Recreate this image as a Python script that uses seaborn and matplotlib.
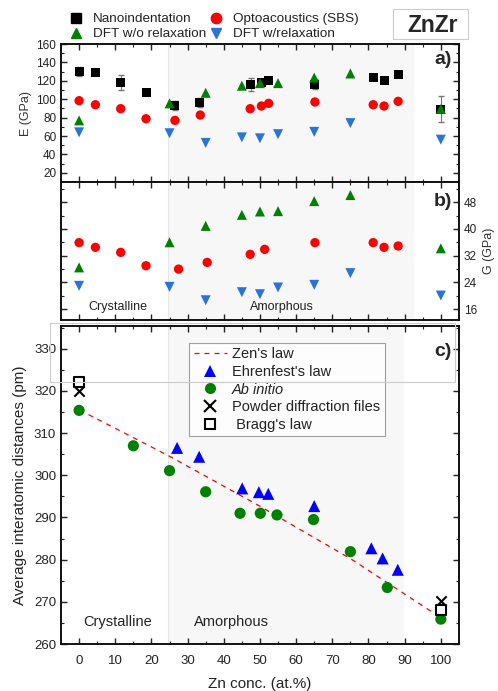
import matplotlib
matplotlib.use("Agg")
import matplotlib.pyplot as plt
import seaborn as sns
import numpy as np
from matplotlib.lines import Line2D
from matplotlib.patches import Rectangle
from matplotlib.ticker import MultipleLocator

# --- panel a: Young's modulus E (GPa) ---
nano_x = [0, 4.5, 11.5, 18.5, 26.4, 33.4, 47.4, 50.4, 52.3, 65.2, 81.3, 84.3, 88.2, 100]
nano_e = [130, 129, 118.5, 107, 93.3, 96.6, 116.2, 118.7, 119.8, 116.5, 123.4, 120.5, 127.4, 89.3]
nano_err = [5, 2, 8, 2, 5, 5, 7, 2, 2, 5, 2, 2, 2, 14]

sbs_x_a = [0, 4.5, 11.5, 18.5, 26.5, 33.5, 47.3, 50.4, 52.4, 65.2, 81.3, 84.3, 88.2]
sbs_e = [98.4, 94, 89.7, 78.8, 77, 82.8, 89.7, 92.6, 95.5, 97, 94, 92.6, 97.7]

dft_x = [0, 25, 35, 45, 50, 55, 65, 75, 100]
dft_norelax_e = [77, 95.5, 107, 114.7, 117.5, 117.5, 123.5, 128, 89.5]
dft_relax_e = [64, 63, 52.5, 58.5, 57.5, 62, 64.5, 74, 56]

# --- panel b: shear modulus G (GPa) ---
sbs_x_b = [0, 4.5, 11.5, 18.5, 27.5, 35.4, 47.3, 51.3, 65.2, 81.3, 84.3, 88.2]
sbs_g = [35.9, 34.5, 33.0, 29.0, 28.0, 30.0, 32.4, 33.9, 35.9, 35.9, 34.5, 34.9]
dft_norelax_g = [28.5, 36.0, 40.9, 44.2, 45.2, 45.3, 48.3, 50.1, 34.2]
dft_relax_g = [23.0, 22.7, 18.7, 21.1, 20.5, 22.5, 23.3, 26.8, 20.1]

# --- panel c: interatomic distances (pm) ---
abinitio_x = [0, 15, 25, 35, 44.5, 50.1, 54.7, 64.8, 75, 85.2, 100]
abinitio_d = [315.4, 307.0, 301.1, 296.1, 291.0, 291.0, 290.6, 289.5, 281.9, 273.4, 265.9]
ehren_x = [27.1, 33.2, 45.1, 49.7, 52.3, 65, 80.8, 83.9, 88.1]
ehren_d = [306.5, 304.4, 296.9, 296.0, 295.6, 292.7, 282.7, 280.3, 277.6]
zen_x = [2.6, 24.6, 48.5, 75.1, 98.1]
zen_d = [314.4, 304.7, 293.4, 280.2, 267.3]
pdf_x = [0, 100]
pdf_d = [320.1, 270.3]
bragg_x = [0, 100]
bragg_d = [322.1, 268.0]

GREEN = "#008000"
RED = "#ff0000"
BLUE_A = "#2a74d8"
BLUE_C = "#0000ff"
SHADE = "#f7f7f7"

sns.set_theme(style="ticks")
plt.rcParams["font.family"] = ["Liberation Sans", "DejaVu Sans"]

fig = plt.figure(figsize=(4.98, 6.91), dpi=100)
ax_a = fig.add_axes([0.1225, 0.7366, 0.799, 0.1997])
ax_b = fig.add_axes([0.1225, 0.5369, 0.799, 0.1997])
ax_c = fig.add_axes([0.1225, 0.068, 0.799, 0.4602])

for ax in (ax_a, ax_b, ax_c):
    ax.set_xlim(-5, 105)
    ax.xaxis.set_major_locator(MultipleLocator(10))
    ax.xaxis.set_minor_locator(MultipleLocator(5))
    ax.tick_params(which="both", direction="in", top=True, right=True, colors="#222222",
                   labelsize=8.5)
    ax.tick_params(which="major", length=4, width=1)
    ax.tick_params(which="minor", length=2.5, width=0.8)
    for sp in ax.spines.values():
        sp.set_linewidth(1.4)
        sp.set_color("#111111")

ax_a.axvspan(24.5, 92.5, color=SHADE, zorder=0, lw=0)
ax_b.axvspan(24.5, 92.5, color=SHADE, zorder=0, lw=0)
ax_c.axvspan(24.5, 89.7, color=SHADE, zorder=0, lw=0)
for ax in (ax_a, ax_b, ax_c):
    ax.axvline(24.5, color="#e6e6e6", lw=0.8, zorder=0)

# panel a
ax_a.errorbar(nano_x, nano_e, yerr=nano_err, fmt="none", ecolor="#777777", elinewidth=0.8,
              capsize=2, zorder=2)
sns.scatterplot(x=nano_x, y=nano_e, ax=ax_a, marker="s", color="black", s=42, edgecolor="none", zorder=3)
sns.scatterplot(x=sbs_x_a, y=sbs_e, ax=ax_a, marker="o", color=RED, s=45, edgecolor="none", zorder=3)
sns.scatterplot(x=dft_x, y=dft_norelax_e, ax=ax_a, marker="^", color=GREEN, s=52, edgecolor="none", zorder=3)
sns.scatterplot(x=dft_x, y=dft_relax_e, ax=ax_a, marker="v", color=BLUE_A, s=52, edgecolor="none", zorder=3)
ax_a.set_ylim(10, 160)
ax_a.yaxis.set_minor_locator(MultipleLocator(10))
ax_a.set_yticks([20, 40, 60, 80, 100, 120, 140, 160])
ax_a.tick_params(labelbottom=False)
ax_a.set_ylabel("E (GPa)", fontsize=9, color="#333333", labelpad=3)
ax_a.text(100.5, 143, "a)", fontsize=14, fontweight="bold", ha="center", va="center")

# panel b
sns.scatterplot(x=sbs_x_b, y=sbs_g, ax=ax_b, marker="o", color=RED, s=45, edgecolor="none", zorder=3)
sns.scatterplot(x=dft_x, y=dft_norelax_g, ax=ax_b, marker="^", color=GREEN, s=52, edgecolor="none", zorder=3)
sns.scatterplot(x=dft_x, y=dft_relax_g, ax=ax_b, marker="v", color=BLUE_A, s=52, edgecolor="none", zorder=3)
ax_b.set_ylim(12.8, 54)
ax_b.yaxis.set_minor_locator(MultipleLocator(4))
ax_b.set_yticks([16, 24, 32, 40, 48])
ax_b.yaxis.tick_right()
ax_b.yaxis.set_label_position("right")
ax_b.tick_params(which="both", left=True, labelleft=False, labelright=True, labelbottom=False)
ax_b.set_ylabel("G (GPa)", fontsize=9, color="#333333", labelpad=4)
ax_b.text(100.5, 48.2, "b)", fontsize=14, fontweight="bold", ha="center", va="center")
ax_b.text(10.7, 16.8, "Crystalline", fontsize=9, ha="center", va="center", color="#222222")
ax_b.text(56, 16.8, "Amorphous", fontsize=9, ha="center", va="center", color="#222222")

# panel c
sns.lineplot(x=zen_x, y=zen_d, ax=ax_c, color=RED, lw=0.9, linestyle=(0, (4, 4)), zorder=2)
sns.scatterplot(x=ehren_x, y=ehren_d, ax=ax_c, marker="^", color=BLUE_C, s=75, edgecolor="none", zorder=3)
sns.scatterplot(x=abinitio_x, y=abinitio_d, ax=ax_c, marker="o", color=GREEN, s=65, edgecolor="none", zorder=3)
sns.scatterplot(x=pdf_x, y=pdf_d, ax=ax_c, marker="x", color="black", s=55, linewidth=1.5, zorder=4)
sns.scatterplot(x=bragg_x, y=bragg_d, ax=ax_c, marker="s", facecolor="white", edgecolor="black",
                s=55, linewidth=1.5, zorder=4)
ax_c.set_ylim(260, 335.4)
ax_c.yaxis.set_major_locator(MultipleLocator(10))
ax_c.yaxis.set_minor_locator(MultipleLocator(5))
ax_c.tick_params(which="both", labelsize=9.5)
ax_c.tick_params(axis="x", pad=8)
ax_c.set_xlabel("Zn conc. (at.%)", fontsize=11, color="#222222", labelpad=7)
ax_c.set_ylabel("Average interatomic distances (pm)", fontsize=11, color="#222222", labelpad=5)
ax_c.text(100.5, 329.3, "c)", fontsize=14, fontweight="bold", ha="center", va="center")
ax_c.text(10.6, 265.2, "Crystalline", fontsize=10.5, ha="center", va="center", color="#222222")
ax_c.text(42.2, 265.2, "Amorphous", fontsize=10.5, ha="center", va="center", color="#222222")

c_handles = [
    Line2D([], [], color=RED, lw=0.9, linestyle=(0, (4, 4))),
    Line2D([], [], marker="^", color=BLUE_C, lw=0, markersize=8.5, markeredgewidth=0),
    Line2D([], [], marker="o", color=GREEN, lw=0, markersize=8, markeredgewidth=0),
    Line2D([], [], marker="x", color="black", lw=0, markersize=8, markeredgewidth=1.5),
    Line2D([], [], marker="s", markerfacecolor="white", markeredgecolor="black", lw=0,
           markersize=7, markeredgewidth=1.5),
]
c_labels = ["Zen's law", "Ehrenfest's law", "Ab initio", "Powder diffraction files", " Bragg's law"]
leg_c = ax_c.legend(c_handles, c_labels, loc="upper left", bbox_to_anchor=(0.322, 0.947),
                    fontsize=10.5, frameon=True, fancybox=False, edgecolor="#888888",
                    handlelength=2.3, handletextpad=0.35, labelspacing=0.25, borderpad=0.3,
                    borderaxespad=0)
leg_c.get_frame().set_linewidth(0.8)
for t in leg_c.get_texts():
    t.set_color("#222222")
leg_c.get_texts()[2].set_fontstyle("italic")

# top legend
top_handles = [
    Line2D([], [], marker="s", color="black", lw=0, markersize=6.5),
    Line2D([], [], marker="^", color=GREEN, lw=0, markersize=7.5),
    Line2D([], [], marker="o", color=RED, lw=0, markersize=7.5),
    Line2D([], [], marker="v", color=BLUE_A, lw=0, markersize=7.5),
]
top_labels = ["Nanoindentation", "DFT w/o relaxation", "Optoacoustics (SBS)", "DFT w/relaxation"]
leg_top = fig.legend(top_handles, top_labels, ncol=2, loc="upper left", bbox_to_anchor=(0.115, 0.999),
                     frameon=False, fontsize=9.7, handlelength=1.0, handletextpad=0.75,
                     columnspacing=0.25, labelspacing=0.2)
for t in leg_top.get_texts():
    t.set_color("#222222")

# ZnZr label box and the faint frame at the top of panel c
fig.add_artist(Rectangle((393 / 498, 1 - 39.3 / 691), 75 / 498, 30 / 691, transform=fig.transFigure,
                         facecolor="white", edgecolor="#cccccc", lw=0.8))
fig.text(433 / 498, 1 - 25 / 691, "ZnZr", fontsize=16.5, fontweight="bold", ha="center", va="center")
fig.add_artist(Rectangle((50 / 498, 1 - 381.7 / 691), 405 / 498, 59 / 691, transform=fig.transFigure,
                         facecolor="none", edgecolor="#cccccc", lw=0.8, zorder=5))

fig.savefig("out.png", dpi=100)
